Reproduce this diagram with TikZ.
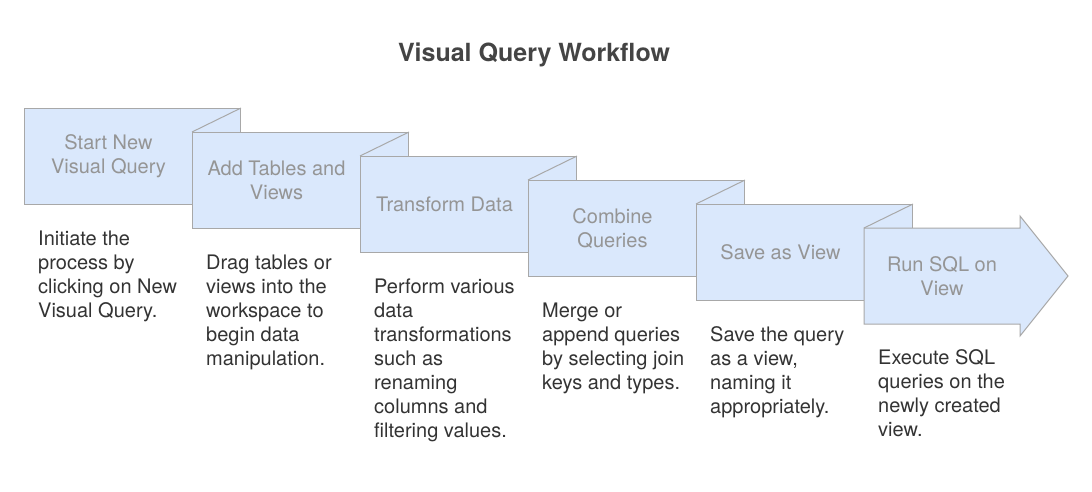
\documentclass[tikz,border=0pt]{standalone}
\usepackage{fontspec}
\setmainfont{TeX Gyre Heros}
\usepackage{tikz}
\definecolor{paleblue}{HTML}{DAE8FC}
\definecolor{edgegray}{HTML}{A8A8A8}
\definecolor{labelgray}{HTML}{959595}
\definecolor{notegray}{HTML}{333333}
\definecolor{titlegray}{HTML}{444444}
\usetikzlibrary{positioning}

\tikzset{
  stepbox/.style={draw=edgegray, fill=paleblue, line width=1pt, rectangle, anchor=north west, inner sep=0pt, minimum width=216pt, minimum height=96pt},
  steptext/.style={text=labelgray, align=center, font=\fontsize{20}{24}\selectfont},
  notetext/.style={text=notegray, align=left, anchor=north west, inner sep=0pt, font=\fontsize{20}{24}\selectfont},
  foldline/.style={draw=edgegray, line width=1pt}
}

\begin{document}
\begin{tikzpicture}[x=1pt, y=-1pt]
			\useasboundingbox (0,0) rectangle (1092,492);
			
			\node[font=\bfseries\fontsize{25}{28}\selectfont, text=titlegray] (title) at (534,55) {Visual Query Workflow};
			
			\node[stepbox] (b1) at (24,108) {};
			\node[steptext] (t1) at ([xshift=-24pt]b1.center) {Start New\\Visual Query};
			
			\node[stepbox] (b2) at (192,132) {};
			\draw[foldline] (b1.north east) -- (b2.north west);
			\node[steptext] (t2) at ([xshift=-24pt]b2.center) {Add Tables and\\Views};
			
			\node[stepbox] (b3) at (360,156) {};
			\draw[foldline] (b2.north east) -- (b3.north west);
			\node[steptext] (t3) at ([xshift=-24pt]b3.center) {Transform Data};
			
			\node[stepbox] (b4) at (528,180) {};
			\draw[foldline] (b3.north east) -- (b4.north west);
			\node[steptext] (t4) at ([xshift=-24pt]b4.center) {Combine\\Queries};
			
			\node[stepbox] (b5) at (696,204) {};
			\draw[foldline] (b4.north east) -- (b5.north west);
			\node[steptext] (t5) at ([xshift=-24pt]b5.center) {Save as View};
			
			% last step is the arrow
			\coordinate (b6) at (864,228);
			\draw[foldline, fill=paleblue] (b6) -- (1020,228) -- (1020,216) -- (1068,276) -- (1020,336) -- (1020,324) -- (864,324) -- cycle;
			\draw[foldline] (b5.north east) -- (b6);
			\node[steptext] (t6) at (942,276) {Run SQL on\\View};
			
			\node[notetext] (n1) at ([xshift=14pt, yshift=-23pt]b1.south west) {\strut Initiate the\\process by\\clicking on New\\Visual Query.};
			\node[notetext] (n2) at ([xshift=14pt, yshift=-23pt]b2.south west) {\strut Drag tables or\\views into the\\workspace to\\begin data\\manipulation.};
			\node[notetext] (n3) at ([xshift=14pt, yshift=-23pt]b3.south west) {\strut Perform various\\data\\transformations\\such as\\renaming\\columns and\\filtering values.};
			\node[notetext] (n4) at ([xshift=14pt, yshift=-23pt]b4.south west) {\strut Merge or\\append queries\\by selecting join\\keys and types.};
			\node[notetext] (n5) at ([xshift=14pt, yshift=-23pt]b5.south west) {\strut Save the query\\as a view,\\naming it\\appropriately.};
			\node[notetext] (n6) at (878,347) {\strut Execute SQL\\queries on the\\newly created\\view.};
			
			\end{tikzpicture}
\end{document}
